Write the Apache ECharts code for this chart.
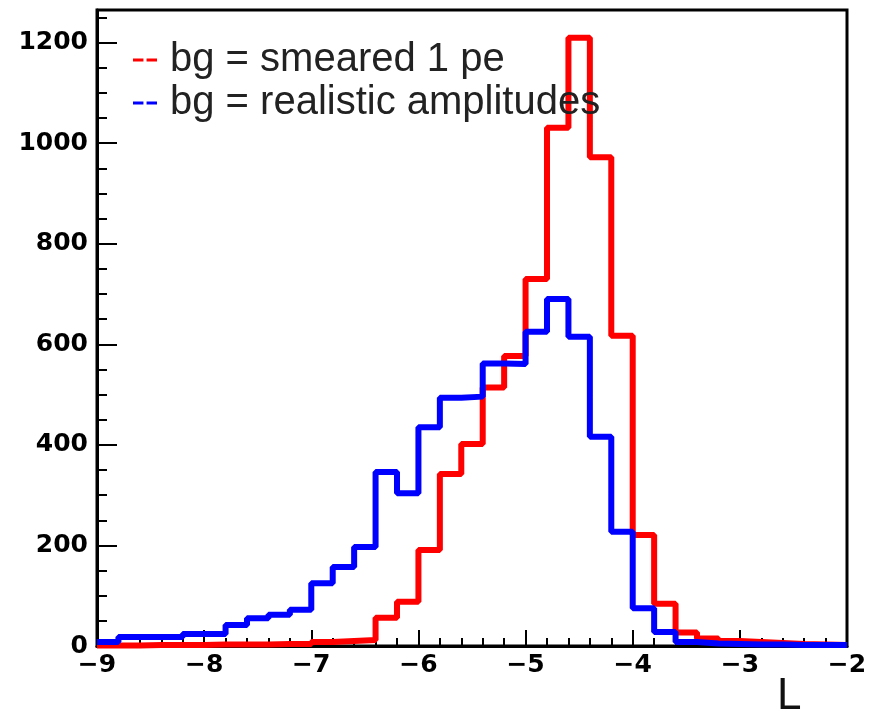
<!DOCTYPE html>
<html>
<head>
<meta charset="utf-8">
<script src="https://cdn.jsdelivr.net/npm/echarts@6/dist/echarts.min.js"></script>
<style>html,body{margin:0;padding:0;background:#fff}#c{width:872px;height:716px}</style>
</head>
<body>
<div id="c"></div>
<script>
// Left edges of the 0.2-wide bins from -9 to -2
var binLeft = [-9.0,-8.8,-8.6,-8.4,-8.2,-8.0,-7.8,-7.6,-7.4,-7.2,
               -7.0,-6.8,-6.6,-6.4,-6.2,-6.0,-5.8,-5.6,-5.4,-5.2,
               -5.0,-4.8,-4.6,-4.4,-4.2,-4.0,-3.8,-3.6,-3.4,-3.2,
               -3.0,-2.8,-2.6,-2.4,-2.2];
var lastEdge = -2.0;
var smearedValues = [1,1,2,2,2,3,3,3,4,4,
                     8,10,12,56,88,191,342,402,514,577,
                     730,1031,1210,972,617,221,84,27,15,10,
                     8,6,4,3,2];
var realisticValues = [8,18,18,18,24,24,42,55,62,72,
                       125,157,197,346,304,435,494,496,562,561,
                       625,690,615,416,227,75,28,8,5,4,
                       3,3,2,2,2];
var xTicks = [-9,-8,-7,-6,-5,-4,-3,-2];
var yTicks = [0,200,400,600,800,1000,1200];
var seriesNames = ['bg = smeared 1 pe', 'bg = realistic amplitudes'];

function toSteps(vals){
  var pts = binLeft.map(function(x,i){ return [x, vals[i]]; });
  pts.push([lastEdge, vals[vals.length-1]]);
  return pts;
}

var chart = echarts.init(document.getElementById('c'), null, {renderer:'canvas'});
var dashIcon = 'path://M0,0H10V3H0Z M13,0H23V3H13Z';
chart.setOption({
  animation: false,
  title: {
    text: 'L', left: 772, top: 670,
    textStyle: {fontFamily: 'Liberation Sans', fontSize: 44, fontWeight: 'normal', color: '#111'}
  },
  legend: {
    orient: 'vertical', left: 128, top: 35, itemGap: 3,
    itemWidth: 24, itemHeight: 5,
    selectedMode: false,
    textStyle: {fontFamily: 'Liberation Sans', fontSize: 40, color: '#222', padding: [0,0,0,8]},
    data: [
      {name: seriesNames[0], icon: dashIcon, itemStyle: {color: '#ff0000'}},
      {name: seriesNames[1], icon: dashIcon, itemStyle: {color: '#0000ff'}}
    ]
  },
  grid: {left: 97, right: 25, top: 10, bottom: 70, show: true, borderColor: '#000', borderWidth: 3, backgroundColor: 'transparent'},
  xAxis: {
    type: 'value', min: xTicks[0], max: xTicks[xTicks.length-1], interval: 1,
    axisLine: {show: true, lineStyle: {color: '#000', width: 3}},
    axisTick: {show: true, inside: true, length: 16, lineStyle: {color: '#000', width: 2}},
    minorTick: {show: true, splitNumber: 5, length: 8, lineStyle: {color: '#000', width: 2}},
    splitLine: {show: false},
    axisLabel: {
      margin: 7, color: '#000', fontFamily: 'DejaVu Sans', fontWeight: 'bold', fontSize: 25,
      formatter: function(v){ return (v < 0 ? '\u2212' : '') + Math.abs(v); }
    }
  },
  yAxis: {
    type: 'value', min: 0, max: 1265, interval: 200,
    axisLine: {show: true, lineStyle: {color: '#000', width: 3}},
    axisTick: {show: true, inside: true, length: 20, lineStyle: {color: '#000', width: 2}},
    minorTick: {show: true, splitNumber: 4, length: 10, lineStyle: {color: '#000', width: 2}},
    splitLine: {show: false},
    axisLabel: {margin: 9, color: '#000', fontFamily: 'DejaVu Sans', fontWeight: 'bold', fontSize: 25,
      formatter: function(v){ return yTicks.indexOf(v) >= 0 ? String(v) : ''; }}
  },
  series: [
    {name: seriesNames[0], type: 'line', step: 'end', showSymbol: false, color: '#ff0000',
     lineStyle: {color: '#ff0000', width: 6}, data: toSteps(smearedValues), silent: true},
    {name: seriesNames[1], type: 'line', step: 'end', showSymbol: false, color: '#0000ff',
     lineStyle: {color: '#0000ff', width: 6}, data: toSteps(realisticValues), silent: true}
  ]
});
</script>
</body>
</html>
